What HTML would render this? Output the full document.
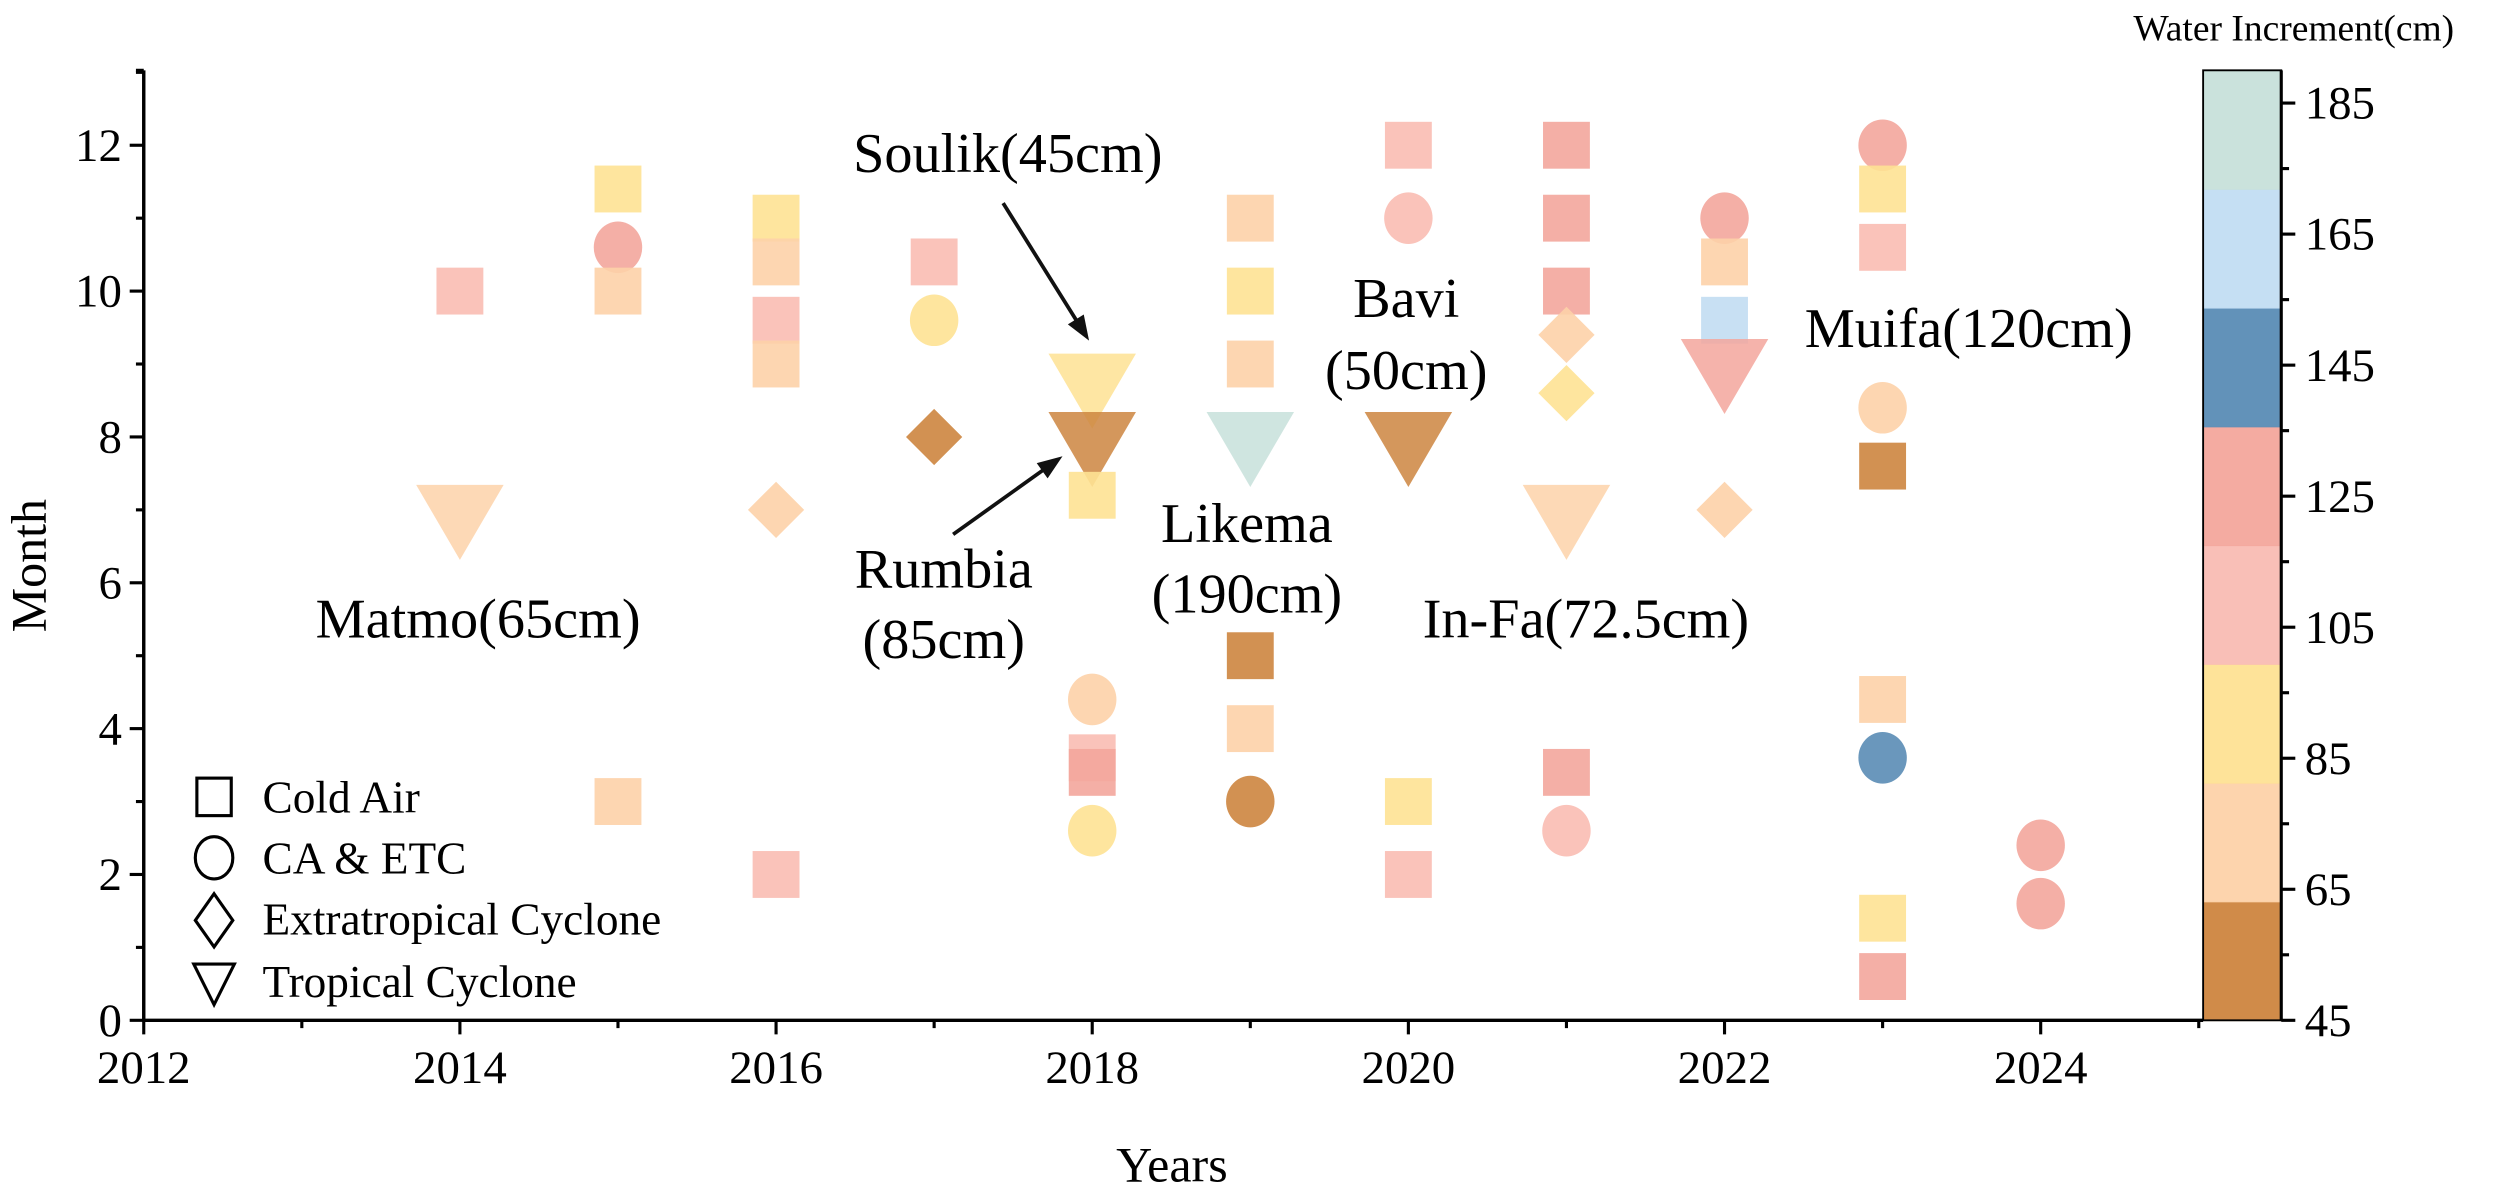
<!DOCTYPE html>
<html><head><meta charset="utf-8"><style>
html,body{margin:0;padding:0;background:#fff}
svg{display:block}
text{font-family:"Liberation Serif",serif;fill:#000}
</style></head><body>
<svg id="chart" width="2500" height="1201" viewBox="0 0 1600 768.64" xmlns="http://www.w3.org/2000/svg">
<g id="marks"></g>
<g id="axes"></g>
<g id="cbar"></g>
<g id="ann"></g>
<g id="legend"></g>
</svg>
<script>
const years  = [2014,2014,2015,2015,2015,2015,2016,2016,2016,2016,2016,2016,2017,2017,2017,2018,2018,2018,2018,2018,2018,2018,2019,2019,2019,2019,2019,2019,2019,2020,2020,2020,2020,2020,2021,2021,2021,2021,2021,2021,2021,2021,2022,2022,2022,2022,2022,2023,2023,2023,2023,2023,2023,2023,2023,2023,2024,2024];
const months = [10,7,11.4,10.6,10,3,11,10.4,9.6,9,7,2,10.4,9.6,8,8.8,8.0,7.2,4.4,3.6,3.4,2.6,11,10,9,8,5,4,3,12,11,8,3,2,12,11,10,9.4,8.6,7,3.4,2.6,11,10.4,9.6,9,7,12,11.4,10.6,8.4,7.6,4.4,3.6,1.4,0.6,2.4,1.6];
const values = [108,70,90,125,70,70,90,70,110,70,70,108,108,90,50,90,50,90,70,108,125,90,70,90,70,185,50,70,50,108,108,50,90,108,125,125,125,70,90,70,125,108,125,70,165,125,70,125,90,108,70,50,70,145,90,125,125,125];
const types  = ["s","t","s","c","s","s","s","s","s","s","d","s","s","c","d","t","t","s","c","s","s","c","s","s","s","t","s","s","c","s","c","t","s","s","s","s","s","d","d","t","s","c","c","s","s","t","d","c","s","s","c","s","s","c","s","s","c","c"];
const cbEdges  = [45,63.125,81.25,99.375,117.5,135.625,153.75,171.875,190];
const cbColors = ["#cd853f","#fdd2a9","#fee293","#f9bcb3","#f3a69c","#5a8cb5","#c2ddf2","#c7e0da"];
const xTicks = [2012,2014,2016,2018,2020,2022,2024];
const yTicks = [0,2,4,6,8,10,12];
const cbTicks = [45,65,85,105,125,145,165,185];

const NS="http://www.w3.org/2000/svg";
function mk(tag,attrs,parent){const e=document.createElementNS(NS,tag);for(const k in attrs)e.setAttribute(k,attrs[k]);parent.appendChild(e);return e;}
const X0=92,Y0=653;
const xs=y=>X0+(y-2012)*101.17;
const ys=m=>Y0-m*46.67;
const cs=v=>653-(v-45)*(608/145);
function color(v){for(let i=0;i<cbColors.length;i++){if(v<cbEdges[i+1])return cbColors[i];}return cbColors[cbColors.length-1];}

const G=document.getElementById('marks');
for(let i=0;i<years.length;i++){
  const x=xs(years[i]),y=ys(months[i]),c=color(values[i]);let e;
  if(types[i]==="s") e=mk('rect',{x:x-15,y:y-15,width:30,height:30,fill:c,opacity:0.9},G);
  else if(types[i]==="c") e=mk('ellipse',{cx:x,cy:y,rx:15.5,ry:16.5,fill:c,opacity:0.9},G);
  else if(types[i]==="d") e=mk('polygon',{points:`${x},${y-18} ${x+18},${y} ${x},${y+18} ${x-18},${y}`,fill:c,opacity:0.9},G);
  else e=mk('polygon',{points:`${x-28},${y-16} ${x+28},${y-16} ${x},${y+32}`,fill:c,opacity:0.85},G);
  
  
}

const A=document.getElementById('axes');
mk('line',{x1:X0,y1:45,x2:X0,y2:Y0,stroke:'#000','stroke-width':2.2},A);
mk('line',{x1:X0-1,y1:Y0,x2:1410,y2:Y0,stroke:'#000','stroke-width':2.2},A);
for(let m=0;m<=13;m++){mk('line',{x1:X0-(m%2?5:9),y1:ys(m),x2:X0,y2:ys(m),stroke:'#000','stroke-width':2},A);}
mk('line',{x1:X0-5,y1:45,x2:X0,y2:45,stroke:'#000','stroke-width':2},A);
for(let y=2012;y<=2025;y++){mk('line',{x1:xs(y),y1:Y0,x2:xs(y),y2:Y0+(y%2?5:9),stroke:'#000','stroke-width':2},A);}
yTicks.forEach(t=>{const e=mk('text',{x:X0-14,y:ys(t)+10,'font-size':30,'text-anchor':'end'},A);e.textContent=t;

});
xTicks.forEach(t=>{const e=mk('text',{x:xs(t),y:Y0+40,'font-size':30,'text-anchor':'middle'},A);e.textContent=t;

});
let t=mk('text',{x:0,y:0,'font-size':32,'text-anchor':'middle',transform:'translate(29,362) rotate(-90)'},A);t.textContent='Month';


t=mk('text',{x:750,y:756,'font-size':32,'text-anchor':'middle'},A);t.textContent='Years';



const C=document.getElementById('cbar');
for(let i=0;i<cbColors.length;i++){
  const r=mk('rect',{x:1410,y:cs(cbEdges[i+1]),width:50,height:cs(cbEdges[i])-cs(cbEdges[i+1])+0.5,fill:cbColors[i],opacity:0.95},C);
  
  
}
mk('rect',{x:1410,y:45,width:50,height:608,fill:'none',stroke:'#000','stroke-width':1.2},C);
mk('line',{x1:1460,y1:45,x2:1460,y2:653,stroke:'#000','stroke-width':2},C);
for(let v=45;v<=185;v+=10){mk('line',{x1:1460,y1:cs(v),x2:1460+((v-45)%20?5:9),y2:cs(v),stroke:'#000','stroke-width':2},C);}
cbTicks.forEach(v=>{const e=mk('text',{x:1475,y:cs(v)+10,'font-size':30},C);e.textContent=v;

});
t=mk('text',{x:1468,y:26,'font-size':24,'text-anchor':'middle'},C);t.textContent='Water Increment(cm)';



const N=document.getElementById('ann');
const labels=[["Soulik(45cm)",645,110],["Rumbia",604,376],["(85cm)",604,421],["Likema",798,347],["(190cm)",798,392],["Bavi",900,203],["(50cm)",900,249],["Matmo(65cm)",306,408],["In-Fa(72.5cm)",1015,408],["Muifa(120cm)",1260,222]];
labels.forEach(l=>{const e=mk('text',{x:l[1],y:l[2],'font-size':36,'text-anchor':'middle'},N);e.textContent=l[0];

});
function arrow(x1,y1,x2,y2){const a=Math.atan2(y2-y1,x2-x1),L=16,W=6;
mk('line',{x1,y1,x2:x2-Math.cos(a)*12,y2:y2-Math.sin(a)*12,stroke:'#111','stroke-width':2.4},N);
mk('polygon',{points:`${x2},${y2} ${x2-L*Math.cos(a)+W*Math.sin(a)},${y2-L*Math.sin(a)-W*Math.cos(a)} ${x2-L*Math.cos(a)-W*Math.sin(a)},${y2-L*Math.sin(a)+W*Math.cos(a)}`,fill:'#111'},N);}
arrow(642,130,697,218);
arrow(610,342,680,292);

const L=document.getElementById('legend');
mk('rect',{x:126,y:498,width:22,height:24,fill:'none',stroke:'#000','stroke-width':2},L);
mk('ellipse',{cx:137,cy:549,rx:12,ry:13.5,fill:'none',stroke:'#000','stroke-width':2},L);
mk('polygon',{points:'137,572 149,589 137,606 125,589',fill:'none',stroke:'#000','stroke-width':2},L);
mk('polygon',{points:'124,617 150,617 137,643',fill:'none',stroke:'#000','stroke-width':2},L);
[["Cold Air",520],["CA & ETC",559],["Extratropical Cyclone",598],["Tropical Cyclone",638]].forEach(l=>{const e=mk('text',{x:168,y:l[1],'font-size':29},L);e.textContent=l[0];

});
</script>
</body></html>
